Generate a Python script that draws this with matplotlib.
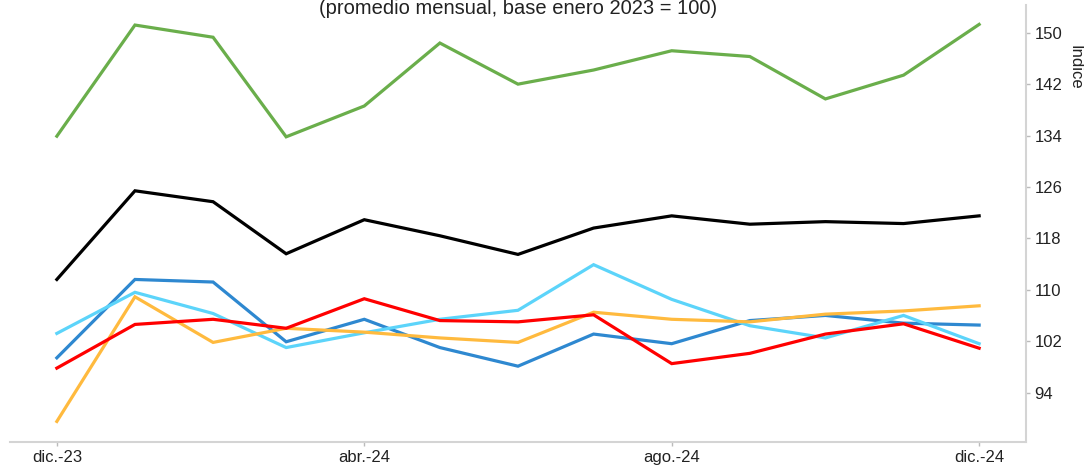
import matplotlib
matplotlib.use('Agg')
import matplotlib.pyplot as plt
import pandas as pd

plt.rcParams['font.family'] = ['Liberation Sans', 'DejaVu Sans']

# monthly index, base enero 2023 = 100
months = pd.date_range('2023-12-01', '2024-12-01', freq='MS')

green = [133.9, 151.2, 149.3, 133.8, 138.6, 148.4, 142.0, 144.2, 147.2, 146.3, 139.7, 143.4, 151.3]
black = [111.6, 125.4, 123.7, 115.6, 120.9, 118.4, 115.5, 119.6, 121.5, 120.2, 120.6, 120.3, 121.5]
blue = [99.4, 111.6, 111.2, 101.9, 105.4, 101.0, 98.1, 103.1, 101.6, 105.2, 106.0, 104.8, 104.5]
light_blue = [103.2, 109.6, 106.3, 101.0, 103.3, 105.4, 106.8, 113.9, 108.5, 104.4, 102.5, 106.0, 101.6]
orange = [89.5, 108.9, 101.8, 104.0, 103.4, 102.5, 101.8, 106.5, 105.4, 105.0, 106.2, 106.7, 107.5]
red = [97.8, 104.6, 105.4, 104.0, 108.6, 105.2, 105.0, 106.1, 98.5, 100.1, 103.1, 104.7, 100.9]

y_ticks = [94, 102, 110, 118, 126, 134, 142, 150]
x_ticks = pd.to_datetime(['2023-12-01', '2024-04-01', '2024-08-01', '2024-12-01'])
x_labels = ['dic.-23', 'abr.-24', 'ago.-24', 'dic.-24']

fig = plt.figure(figsize=(10.84, 4.66), dpi=100)
ax = fig.add_axes([0.0092, 0.0515, 0.9373, 0.9375])

series = [
    (green, '#6AAE4B'),
    (black, '#000000'),
    (blue, '#2E88D0'),
    (light_blue, '#5CD4FA'),
    (orange, '#FFBA3E'),
    (red, '#FF0000'),
]
for values, color in series:
    ax.plot(months, values, color=color, lw=2.3, solid_joinstyle='miter')

pad = pd.Timedelta(days=18.6)
ax.set_xlim(months[0] - pad, months[-1] + pad)
ax.set_ylim(86.3, 154.3)

ax.set_xticks(x_ticks)
ax.set_xticklabels(x_labels)
ax.set_yticks(y_ticks)
ax.yaxis.tick_right()

for side in ['top', 'left']:
    ax.spines[side].set_visible(False)
for side in ['bottom', 'right']:
    ax.spines[side].set_color('#d4d4d4')
    ax.spines[side].set_linewidth(1.5)

ax.tick_params(axis='both', colors='#bbbbbb', labelcolor='#222222',
               labelsize=12, length=3, width=1, pad=3)

fig.text(0.478, 1 - 14 / 466, '(promedio mensual, base enero 2023 = 100)',
         ha='center', va='baseline', fontsize=14.5, color='#222222')
fig.text(1075 / 1084, 1 - 67 / 466, 'Indice', rotation=270,
         ha='center', va='center', fontsize=12, color='#222222')

fig.savefig('out.png', dpi=100)
